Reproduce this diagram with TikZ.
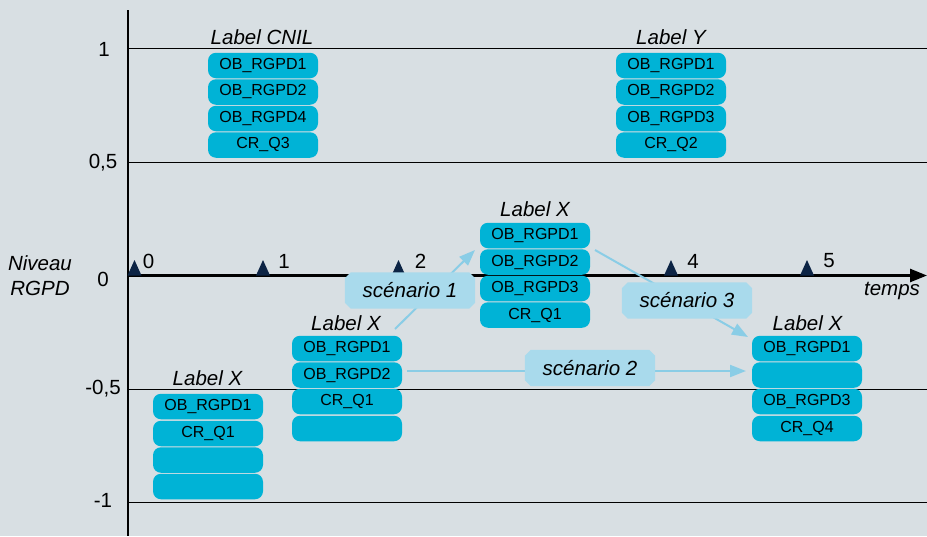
\documentclass[tikz,border=0pt]{standalone}
\usepackage{fontspec}
\setmainfont{Liberation Sans}
\usetikzlibrary{arrows.meta}
\definecolor{bg}{HTML}{D8DFE3}
\definecolor{pill}{HTML}{00B3D6}
\definecolor{scen}{HTML}{A9DAEC}
\definecolor{arr}{HTML}{8ACDE6}
\definecolor{tickc}{HTML}{0C2445}
\pgfdeclarelayer{back}
\pgfdeclarelayer{mid}
\pgfsetlayers{back,mid,main}
\newcommand{\chamferfill}[1]{%
  \begin{pgfonlayer}{mid}
  \fill[scen]
    ([xshift=6pt]#1.north west) -- ([xshift=-6pt]#1.north east) --
    ([yshift=-6pt]#1.north east) -- ([yshift=6pt]#1.south east) --
    ([xshift=-6pt]#1.south east) -- ([xshift=6pt]#1.south west) --
    ([yshift=6pt]#1.south west) -- ([yshift=-6pt]#1.north west) -- cycle;
  \end{pgfonlayer}}
\begin{document}
\begin{tikzpicture}[x=1pt,y=-1pt,
  pillbox/.style={fill=pill, rounded corners=8pt, minimum width=110pt, minimum height=25.5pt, inner sep=0pt, font=\fontsize{16}{18}\selectfont},
  lbl/.style={font=\fontsize{20.5}{24.5}\selectfont\itshape, inner sep=0pt},
  big/.style={font=\fontsize{20.5}{23}\selectfont, inner sep=0pt},
  scenbox/.style={rectangle, minimum width=130pt, minimum height=36pt, inner sep=0pt,
    font=\fontsize{20.5}{23}\selectfont\itshape},
  conn/.style={draw=arr, line width=2pt, -{Triangle[length=16pt,width=12pt]}},
  gridline/.style={line width=1pt},
  tickmark/.style={fill=tickc}]
\begin{pgfonlayer}{back}
\fill[bg] (0,0) rectangle (927,536);
\end{pgfonlayer}
\useasboundingbox (0,0) rectangle (927,536);
\begin{pgfonlayer}{back}
% grid lines
\foreach \yy in {48.5,162.5,389.5,502.5} \draw[gridline] (128,\yy) -- (927,\yy);
% vertical axis
\coordinate (vtop) at (128,10);
\coordinate (vbot) at (128,536);
\draw[line width=2.2pt] (vtop) -- (vbot);
% time axis
\coordinate (tstart) at (128,275.5);
\coordinate (tend) at (927,275.5);
\draw[line width=2.5pt, -{Triangle[length=17pt,width=13pt]}] (tstart) -- (tend);
% ticks
\foreach \xx in {134.5,263,398.5,671,807} {
  \fill[tickmark] (\xx-7,275.5) -- (\xx,260) -- (\xx+7,275.5) -- cycle;
}
% arrows
\coordinate (s1a) at (395,329);
\coordinate (s1b) at (475,250);
\coordinate (s2a) at (407,371);
\coordinate (s2b) at (746,371);
\coordinate (s3a) at (595,250);
\coordinate (s3b) at (748,337);
\draw[conn] (s1a) -- (s1b);
\draw[conn] (s2a) -- (s2b);
\draw[conn] (s3a) -- (s3b);
\end{pgfonlayer}
% y labels
\node[big] (y1) at (104,49) {1};
\node[big] (y05) at (103,163) {0,5};
\node[big] (y0) at (103,279) {0};
\node[big] (ym05) at (103,389) {-0,5};
\node[big] (ym1) at (103,500) {-1};
\node[lbl, align=center] (niveau) at (40,275.5) {Niveau\\RGPD};
\node[lbl] (temps) at (892,291) {temps};
% tick labels
\foreach \xx/\tl/\dx in {134.5/0/14,263/1/21,398.5/2/22,671/4/22,807/5/22} {
  \node[big] (t\tl) at (\xx+\dx,261) {\tl};
}
% scenario labels
\node[scenbox] (sc1) at (410,290.5) {scénario 1};
\node[scenbox] (sc2) at (590,368) {scénario 2};
\node[scenbox] (sc3) at (687,300.5) {scénario 3};
\chamferfill{sc1}
\chamferfill{sc2}
\chamferfill{sc3}
% Label CNIL
\node[lbl] (lcnil) at (262,37.5) {Label CNIL};
\node[pillbox] (c1) at (263,65.5) {OB\_RGPD1};
\node[pillbox] (c2) at (263,92) {OB\_RGPD2};
\node[pillbox] (c3) at (263,118.5) {OB\_RGPD4};
\node[pillbox] (c4) at (263,145) {CR\_Q3};
% Label Y
\node[lbl] (ly) at (671,37.5) {Label Y};
\node[pillbox] (y1a) at (671,65.5) {OB\_RGPD1};
\node[pillbox] (y1b) at (671,92) {OB\_RGPD2};
\node[pillbox] (y1c) at (671,118.5) {OB\_RGPD3};
\node[pillbox] (y1d) at (671,145) {CR\_Q2};
% Label X at t=2
\node[lbl] (lx2) at (535,209.5) {Label X};
\node[pillbox] (x2a) at (535,235.5) {OB\_RGPD1};
\node[pillbox] (x2b) at (535,262) {OB\_RGPD2};
\node[pillbox] (x2c) at (535,288.5) {OB\_RGPD3};
\node[pillbox] (x2d) at (535,315) {CR\_Q1};
% Label X at t=1
\node[lbl] (lx1) at (346,323.5) {Label X};
\node[pillbox] (x1a) at (347,348.5) {OB\_RGPD1};
\node[pillbox] (x1b) at (347,375) {OB\_RGPD2};
\node[pillbox] (x1c) at (347,401.5) {CR\_Q1};
\node[pillbox] (x1d) at (347,428.5) {};
% Label X at t=0
\node[lbl] (lx0) at (207.5,378.5) {Label X};
\node[pillbox] (x0a) at (208,406.5) {OB\_RGPD1};
\node[pillbox] (x0b) at (208,433.5) {CR\_Q1};
\node[pillbox] (x0c) at (208,460) {};
\node[pillbox] (x0d) at (208,486.5) {};
% Label X at t=5
\node[lbl] (lx5) at (807.5,323.5) {Label X};
\node[pillbox] (x5a) at (807,348.5) {OB\_RGPD1};
\node[pillbox] (x5b) at (807,375) {};
\node[pillbox] (x5c) at (807,401.5) {OB\_RGPD3};
\node[pillbox] (x5d) at (807,428.5) {CR\_Q4};
\end{tikzpicture}
\end{document}
